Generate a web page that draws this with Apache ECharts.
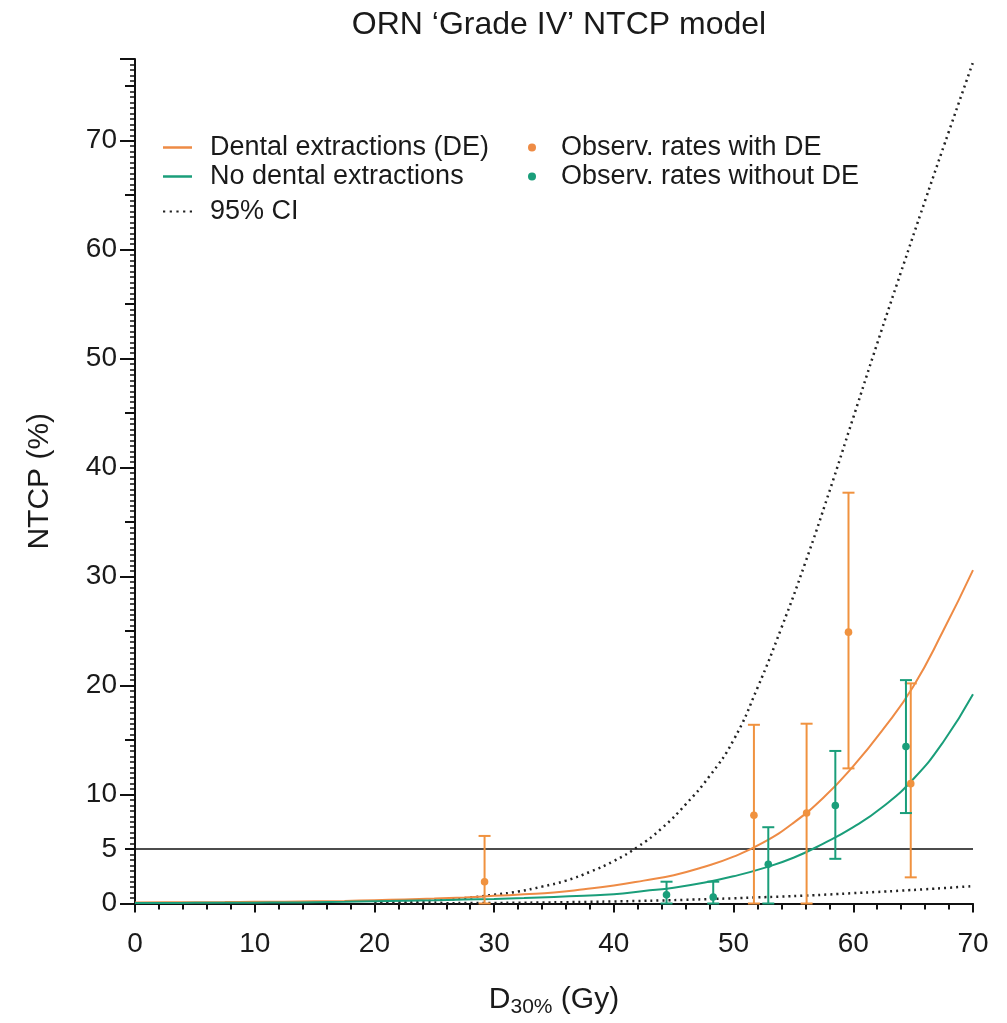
<!DOCTYPE html>
<html>
<head>
<meta charset="utf-8">
<title>ORN NTCP model</title>
<script src="https://cdn.jsdelivr.net/npm/echarts@6/dist/echarts.min.js"></script>
<style>
  html, body { margin: 0; padding: 0; background: #fff; }
  #ntcpChart { width: 1007px; height: 1023px; }
</style>
</head>
<body>
<div id="ntcpChart"></div>
<script type="text/javascript">
// model curves, every 2.5 Gy
var doseGrid = [0, 2.5, 5, 7.5, 10, 12.5, 15, 17.5, 20, 22.5, 25, 27.5, 30, 32.5, 35, 37.5, 40, 42.5, 45, 47.5, 50, 52.5, 55, 57.5, 60, 62.5, 65, 67.5, 70]
var ntcpDE = [0.1, 0.11, 0.12, 0.13, 0.15, 0.17, 0.2, 0.24, 0.3, 0.37, 0.45, 0.56, 0.7, 0.84, 1.0, 1.3, 1.65, 2.1, 2.6, 3.35, 4.3, 5.6, 7.4, 9.7, 12.6, 16.0, 19.9, 25.0, 30.6]
var ntcpNoDE = [0.05, 0.05, 0.06, 0.07, 0.08, 0.09, 0.12, 0.15, 0.2, 0.25, 0.3, 0.36, 0.42, 0.5, 0.6, 0.72, 0.85, 1.15, 1.45, 1.9, 2.5, 3.25, 4.2, 5.5, 7.0, 8.9, 11.4, 14.8, 19.2]

// 95% confidence band
var ciDose = [20, 22, 24, 26, 28, 30, 32, 34, 36, 38, 40, 42, 44, 46, 48, 50, 52, 54, 56, 58, 60, 62, 64, 66, 68, 70]
var ciUpper = [0.05, 0.12, 0.2, 0.35, 0.55, 0.8, 1.1, 1.55, 2.1, 2.9, 3.9, 5.2, 6.9, 9.1, 11.7, 15.0, 19.8, 25.3, 31.3, 37.8, 44.6, 51.4, 58.0, 64.5, 70.9, 77.2]
var ciLower = [0.0, 0.01, 0.02, 0.03, 0.04, 0.05, 0.07, 0.09, 0.12, 0.15, 0.19, 0.23, 0.28, 0.34, 0.41, 0.48, 0.56, 0.64, 0.73, 0.83, 0.95, 1.06, 1.18, 1.31, 1.45, 1.6]

// observed rates with error bars
var obsDoseDE = [29.2, 51.7, 56.1, 59.6, 64.8]
var obsRateDE = [2.0, 8.1, 8.3, 24.9, 11.0]
var obsLowDE = [0, 0, 0, 12.4, 2.4]
var obsHighDE = [6.2, 16.4, 16.5, 37.7, 20.2]

var obsDoseNoDE = [44.4, 48.3, 52.9, 58.5, 64.4]
var obsRateNoDE = [0.8, 0.6, 3.6, 9.0, 14.4]
var obsLowNoDE = [0, 0, 0, 4.1, 8.3]
var obsHighNoDE = [2.0, 2.0, 7.0, 14.0, 20.5]

var thresholdDose = [0, 70]
var thresholdLevel = 5
var yTickLabels = [0, 5, 10, 20, 30, 40, 50, 60, 70]

var ORANGE = '#EE8B45'
var TEAL = '#1A9E7A'
var FONT = '"Liberation Sans", Arial, Helvetica, sans-serif'
// legend glyphs: plain line and a row of dots
var LINE_ICON = 'rect'
var DOTS_ICON = 'path://M0,0h2v2h-2z M6,0h2v2h-2z M12,0h2v2h-2z M18,0h2v2h-2z M24,0h2v2h-2z'

function pairs (xs, ys) {
  return xs.map(function (x, i) { return [x, ys[i]] })
}

function errorRows (xs, ys, lo, hi) {
  return xs.map(function (x, i) { return [x, ys[i], lo[i], hi[i]] })
}

function errorBar (color) {
  return function (params, api) {
    var x = api.value(0)
    var p = api.coord([x, api.value(1)])
    var pLo = api.coord([x, api.value(2)])
    var pHi = api.coord([x, api.value(3)])
    var cap = 6
    var style = { stroke: color, lineWidth: 2 }
    return {
      type: 'group',
      children: [
        { type: 'line', shape: { x1: pLo[0], y1: pLo[1], x2: pHi[0], y2: pHi[1] }, style: style },
        { type: 'line', shape: { x1: pHi[0] - cap, y1: pHi[1], x2: pHi[0] + cap, y2: pHi[1] }, style: style },
        { type: 'line', shape: { x1: pLo[0] - cap, y1: pLo[1], x2: pLo[0] + cap, y2: pLo[1] }, style: style },
        { type: 'circle', shape: { cx: p[0], cy: p[1], r: 3.8 }, style: { fill: color } }
      ]
    }
  }
}

var chart = echarts.init(document.getElementById('ntcpChart'))
var legendText = { color: '#1a1a1a', fontSize: 27, fontFamily: FONT, lineHeight: 29, padding: [0, 0, 0, 13] }

chart.setOption({
  animation: false,
  textStyle: { fontFamily: FONT },
  title: {
    text: 'ORN \u2018Grade IV\u2019 NTCP model',
    left: 554,
    textAlign: 'center',
    top: 4,
    textStyle: { fontSize: 32, fontWeight: 'normal', color: '#1a1a1a', fontFamily: FONT }
  },
  legend: [
    {
      orient: 'vertical', left: 158, top: 128, itemWidth: 29, itemHeight: 2.5, itemGap: 0,
      textStyle: legendText,
      data: [
        { name: 'Dental extractions (DE)', icon: LINE_ICON },
        { name: 'No dental extractions', icon: LINE_ICON }
      ]
    },
    {
      orient: 'vertical', left: 158, top: 192, itemWidth: 29, itemHeight: 2.5, itemGap: 0,
      textStyle: legendText,
      data: [{ name: '95% CI', icon: DOTS_ICON }]
    },
    {
      orient: 'vertical', left: 523, top: 128, itemWidth: 8, itemHeight: 8, itemGap: 0,
      textStyle: Object.assign({}, legendText, { padding: [0, 0, 0, 20] }),
      data: [
        { name: 'Observ. rates with DE', icon: 'circle' },
        { name: 'Observ. rates without DE', icon: 'circle' }
      ]
    }
  ],
  grid: { left: 135, right: 34, top: 59, bottom: 119.5, containLabel: false },
  xAxis: {
    type: 'value',
    min: 0,
    max: 70,
    interval: 10,
    name: '{d|D}{s|30%}{d| (Gy)}',
    nameLocation: 'middle',
    nameGap: 79,
    nameTextStyle: {
      rich: {
        d: { fontSize: 30, color: '#1a1a1a', fontFamily: FONT },
        s: { fontSize: 21, color: '#1a1a1a', fontFamily: FONT, padding: [14, 0, 0, 0] }
      }
    },
    axisLine: { lineStyle: { color: '#111', width: 2 } },
    axisTick: { length: 9, lineStyle: { color: '#111', width: 2 } },
    minorTick: { show: true, splitNumber: 5, length: 6, lineStyle: { color: '#111', width: 2 } },
    axisLabel: { fontSize: 28, color: '#1a1a1a', margin: 27 },
    splitLine: { show: false }
  },
  yAxis: [
    {
      type: 'value',
      min: 0,
      max: 77.5,
      interval: 5,
      name: 'NTCP (%)',
      nameLocation: 'middle',
      nameGap: 80,
      nameTextStyle: { fontSize: 30, color: '#1a1a1a' },
      axisLine: { show: true, lineStyle: { color: '#111', width: 2 } },
      axisTick: { length: 10, lineStyle: { color: '#111', width: 2 } },
      minorTick: { show: true, splitNumber: 10, length: 5, lineStyle: { color: '#111', width: 1.5 } },
      axisLabel: {
        fontSize: 28,
        color: '#1a1a1a',
        margin: 18,
        formatter: function (v) {
          return yTickLabels.indexOf(v) >= 0 ? String(v) : ''
        }
      },
      splitLine: { show: false }
    },
    {
      type: 'value',
      min: 0,
      max: 77.5,
      interval: 10,
      position: 'left',
      axisLine: { show: false },
      axisTick: { show: true, length: 15, lineStyle: { color: '#111', width: 2 } },
      axisLabel: { show: false },
      splitLine: { show: false }
    }
  ],
  series: [
    {
      name: 'threshold',
      type: 'line',
      symbol: 'none',
      silent: true,
      lineStyle: { color: '#111', width: 1.5 },
      data: thresholdDose.map(function (d) { return [d, thresholdLevel] }),
      z: 1
    },
    {
      name: '95% CI',
      type: 'line',
      symbol: 'none',
      smooth: true,
      itemStyle: { color: '#222' },
      lineStyle: { color: '#222', width: 2.5, type: [2, 4] },
      data: pairs(ciDose, ciUpper),
      z: 2
    },
    {
      name: '95% CI',
      type: 'line',
      symbol: 'none',
      smooth: true,
      itemStyle: { color: '#222' },
      lineStyle: { color: '#222', width: 2.5, type: [2, 4] },
      data: pairs(ciDose, ciLower),
      z: 2
    },
    {
      name: 'Dental extractions (DE)',
      type: 'line',
      symbol: 'none',
      smooth: true,
      itemStyle: { color: ORANGE },
      lineStyle: { color: ORANGE, width: 2 },
      data: pairs(doseGrid, ntcpDE),
      z: 3
    },
    {
      name: 'No dental extractions',
      type: 'line',
      symbol: 'none',
      smooth: true,
      itemStyle: { color: TEAL },
      lineStyle: { color: TEAL, width: 2 },
      data: pairs(doseGrid, ntcpNoDE),
      z: 3
    },
    {
      name: 'Observ. rates with DE',
      type: 'custom',
      itemStyle: { color: ORANGE },
      renderItem: errorBar('#F0923F'),
      encode: { x: 0, y: [1, 2, 3] },
      data: errorRows(obsDoseDE, obsRateDE, obsLowDE, obsHighDE),
      z: 4
    },
    {
      name: 'Observ. rates without DE',
      type: 'custom',
      itemStyle: { color: TEAL },
      renderItem: errorBar(TEAL),
      encode: { x: 0, y: [1, 2, 3] },
      data: errorRows(obsDoseNoDE, obsRateNoDE, obsLowNoDE, obsHighNoDE),
      z: 4
    }
  ]
})
</script>
</body>
</html>
